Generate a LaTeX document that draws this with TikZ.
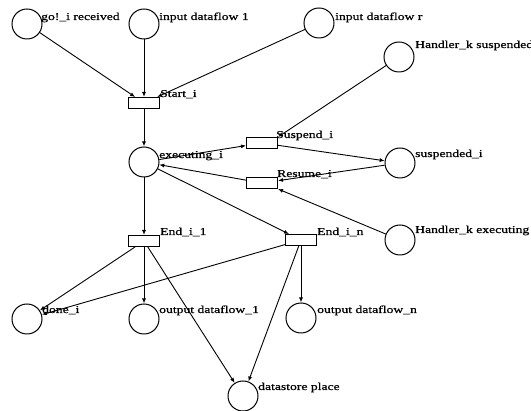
\documentclass[tikz,border=0pt]{standalone}
\usepackage{fontspec}
\newfontfamily\lblfont[FakeStretch=1.3,FakeBold=0.6]{Liberation Serif}
\usetikzlibrary{arrows.meta}
\tikzset{
  place/.style={circle, draw, line width=1pt, minimum size=30pt, inner sep=0pt},
  trans/.style={rectangle, draw, line width=1pt, minimum width=31pt, minimum height=11pt, inner sep=0pt},
  lbl/.style={anchor=base west, inner sep=0pt, font=\lblfont\fontsize{10.5}{12}\selectfont},
  arc/.style={line width=0.9pt, -{Latex[length=5pt,width=4pt]}}
}
\begin{document}
\begin{tikzpicture}[x=1pt, y=-1pt]
\useasboundingbox (0,0) rectangle (531,411);
\clip (0,0) rectangle (531,411);
% places
\node[place] (go) at (27,24) {};
\node[place] (in1) at (144,24) {};
\node[place] (inr) at (319,23) {};
\node[place] (hks) at (399,57) {};
\node[place] (exec) at (144,162) {};
\node[place] (susp) at (400,163) {};
\node[place] (hke) at (400,240) {};
\node[place] (done) at (27,319) {};
\node[place] (out1) at (144,319) {};
\node[place] (outn) at (301,318) {};
\node[place] (ds) at (243,396) {};
% transitions
\node[trans] (start) at (144,103) {};
\node[trans] (suspend) at (262,143) {};
\node[trans] (resume) at (262,183) {};
\node[trans] (end1) at (144,241) {};
\node[trans] (endn) at (301,240) {};
% labels
\node[lbl] (lgo) at (41,20) {go!\_i received};
\node[lbl] (lin1) at (159,20) {input dataflow 1};
\node[lbl] (linr) at (335,20) {input dataflow r};
\node[lbl] (lhks) at (415,48) {Handler\_k suspended};
\node[lbl] (lstart) at (160,97) {Start\_i};
\node[lbl] (lsuspend) at (276,138) {Suspend\_i};
\node[lbl] (lresume) at (277,177) {Resume\_i};
\node[lbl] (lexec) at (159,158) {executing\_i};
\node[lbl] (lsusp) at (415,157) {suspended\_i};
\node[lbl] (lhke) at (415,233) {Handler\_k executing};
\node[lbl] (lend1) at (160,235) {End\_i\_1};
\node[lbl] (lendn) at (317,235) {End\_i\_n};
\node[lbl] (ldone) at (42,313) {done\_i};
\node[lbl] (lout1) at (159,313) {output dataflow\_1};
\node[lbl] (loutn) at (317,313) {output dataflow\_n};
\node[lbl] (lds) at (258,390) {datastore place};
% arcs
\draw[arc] (go) -- (start);
\draw[arc] (in1) -- (start);
\draw[arc] (inr) -- (start);
\draw[arc] (start) -- (exec);
\draw[arc] (exec) -- (suspend);
\draw[arc] (suspend) -- (susp);
\draw[arc] (hks) -- (suspend.north east);
\draw[arc] (susp) -- (resume);
\draw[arc] (hke) -- (resume.south east);
\draw[arc] (resume) -- (exec);
\draw[arc] (exec) -- (end1);
\draw[arc] (exec) -- (endn);
\draw[arc] (end1) -- (done);
\draw[arc] (end1) -- (out1);
\draw[arc] (end1) -- (ds);
\draw[arc] (endn) -- (done);
\draw[arc] (endn) -- (outn);
\draw[arc] (endn) -- (ds);
\end{tikzpicture}
\end{document}
